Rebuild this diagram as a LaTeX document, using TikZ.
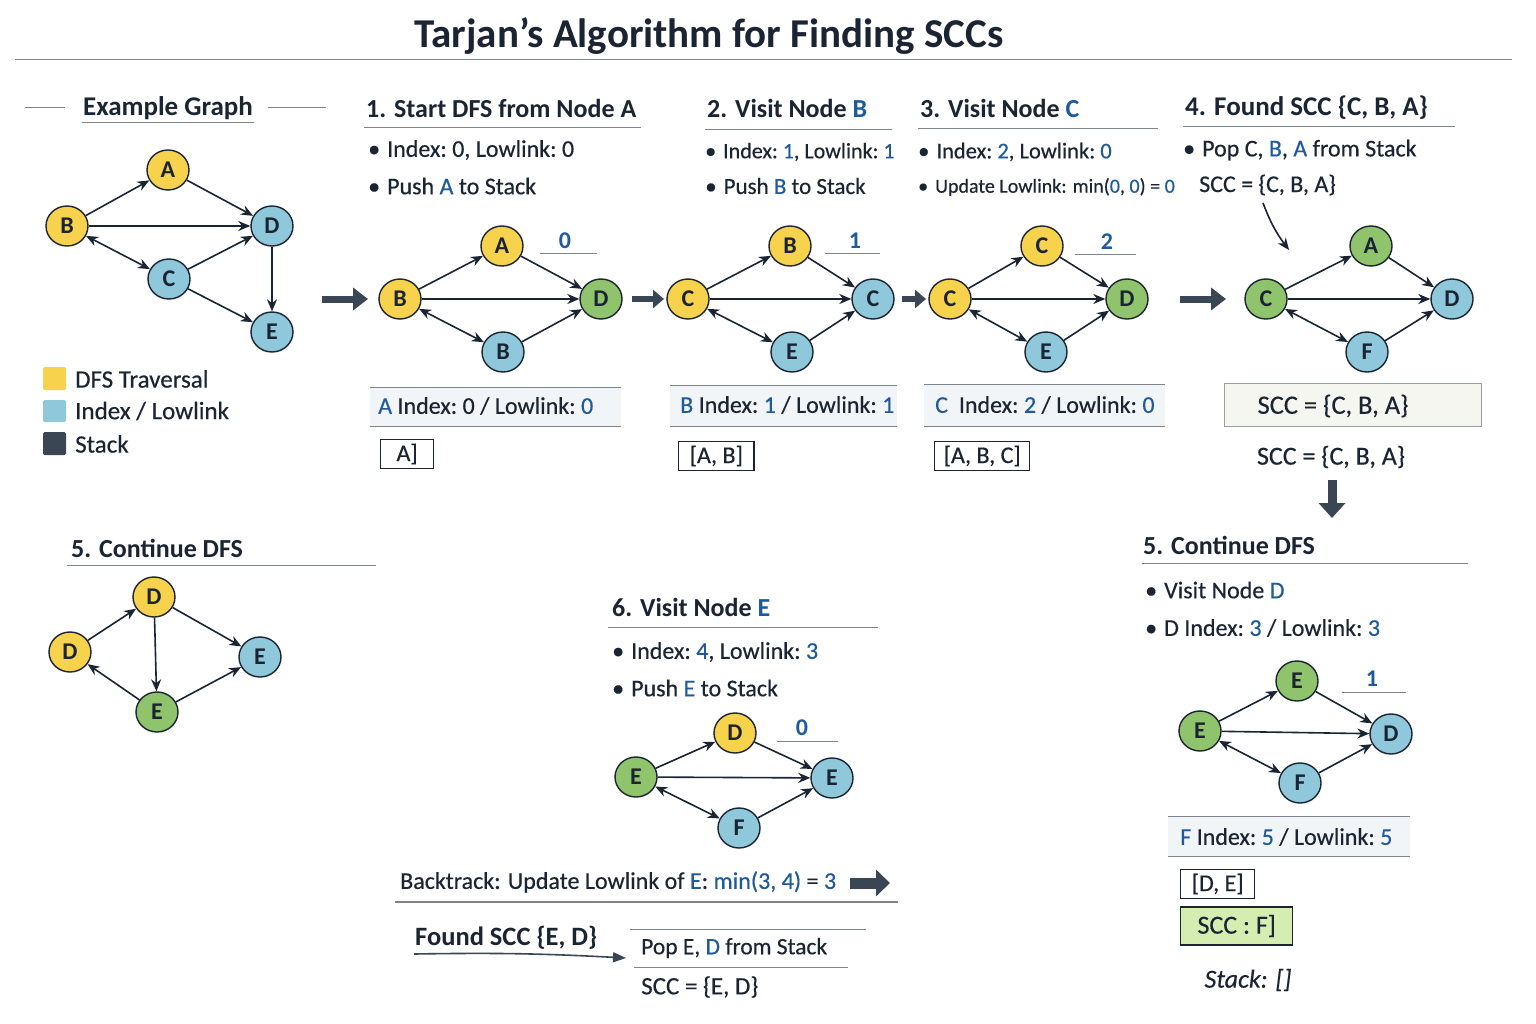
\documentclass[tikz,border=0pt]{standalone}
\usepackage{fontspec}
\setmainfont{Carlito}[UprightFeatures={FakeBold=0.4},ItalicFeatures={FakeBold=0.4}]
\usetikzlibrary{arrows.meta,shapes.geometric}
\definecolor{ink}{HTML}{1B2433}
\definecolor{nyel}{HTML}{F7D24C}
\definecolor{nblu}{HTML}{8FC7DB}
\definecolor{ngrn}{HTML}{8FC46C}
\definecolor{tblue}{HTML}{1F5B9C}
\definecolor{rule}{HTML}{7D848C}
\definecolor{stackc}{HTML}{3A4653}
\definecolor{barbg}{HTML}{F2F5F8}
\definecolor{sccbg}{HTML}{D6EDB2}
\definecolor{sccbox}{HTML}{F6F6F0}
\newcommand{\bl}[1]{\textcolor{tblue}{#1}}
\newcommand{\bu}{\textbullet\hspace{7pt}}
\tikzset{
  gn/.style={ellipse,draw=ink,line width=1.4pt,minimum width=42pt,minimum height=40pt,inner sep=0pt,font=\fontsize{24}{24}\selectfont\bfseries,text=ink},
  yn/.style={gn,fill=nyel},
  bn/.style={gn,fill=nblu},
  gr/.style={gn,fill=ngrn},
  ed/.style={draw=ink,line width=1.6pt,-{Stealth[length=12pt,width=10pt]}},
  bd/.style={draw=ink,line width=1.6pt,{Stealth[length=12pt,width=10pt]}-{Stealth[length=12pt,width=10pt]}},
  head/.style={anchor=west,inner sep=0pt,font=\fontsize{26}{26}\selectfont\bfseries,text=ink},
  txt/.style={anchor=west,inner sep=0pt,font=\fontsize{24}{24}\selectfont,text=ink},
  small/.style={anchor=west,inner sep=0pt,font=\fontsize{20}{20}\selectfont,text=ink},
  numl/.style={inner sep=0pt,font=\fontsize{24}{24}\selectfont\bfseries,text=tblue},
  rl/.style={draw=rule,line width=1pt},
  bigarrow/.style={draw=stackc,line width=7pt,-{Triangle[length=15pt,width=22pt]}},
  smallarrow/.style={draw=stackc,line width=6pt,-{Triangle[length=11pt,width=18pt]}},
  stk/.style={draw=ink,line width=1.3pt,inner xsep=11pt,inner ysep=3pt,minimum height=29pt,font=\fontsize{24}{24}\selectfont,text=ink}
}
\begin{document}
\begin{tikzpicture}[x=1pt,y=-1pt]
\useasboundingbox[fill=white] (0,0) rectangle (1536,1024);
% title
\node[font=\fontsize{41}{41}\selectfont\bfseries,text=ink,inner sep=0pt] (title) at (709,36) {Tarjan’s Algorithm for Finding SCCs};
\draw[rl] (15,60) -- (1512,60);

% ===== Example graph =====
\node[font=\fontsize{27}{27}\selectfont\bfseries,text=ink,inner sep=0pt] (exh) at (168,108) {Example Graph};
\draw[rl] (82,123) -- (254,123);
\draw[rl] (25,108) -- (65,108);
\draw[rl] (268,108) -- (326,108);
\node[yn] (eA) at (168,170) {A};
\node[yn] (eB) at (67,226) {B};
\node[bn] (eD) at (272,226) {D};
\node[bn] (eC) at (169,279) {C};
\node[bn] (eE) at (272,332) {E};
\draw[ed] (eB) -- (eA);
\draw[ed] (eA) -- (eD);
\draw[ed] (eB) -- (eD);
\draw[bd] (eB) -- (eC);
\draw[ed] (eC) -- (eD);
\draw[ed] (eC) -- (eE);
\draw[ed] (eD) -- (eE);
% legend
\fill[nyel,rounded corners=1.5pt] (43,367) rectangle (66,390);
\fill[nblu,rounded corners=1.5pt] (43,400) rectangle (66,422);
\fill[stackc,rounded corners=1.5pt] (43,432) rectangle (66,455);
\node[txt,font=\fontsize{25}{25}\selectfont] (lg1) at (75,379) {DFS Traversal};
\node[txt,font=\fontsize{25}{25}\selectfont] (lg2) at (75,411) {Index / Lowlink};
\node[txt,font=\fontsize{25}{25}\selectfont] (lg3) at (75,444) {Stack};

% arrow to panel 1
\coordinate (a1s) at (322,299);
\coordinate (a1e) at (368,299);
\draw[bigarrow] (a1s) -- (a1e);

% ===== Panel 1 =====
\node[head] (h1) at (366,108) {1. Start DFS from Node A};
\draw[rl] (364,128) -- (641,128);
\node[txt] (p1b1) at (368,150) {\bu Index:\ 0, Lowlink:\ 0};
\node[txt] (p1b2) at (368,186) {\bu Push \bl{A} to Stack};
\node[yn] (p1B) at (400,299) {B};
\node[yn] (p1A) at (502,246) {A};
\node[gr] (p1D) at (601,299) {D};
\node[bn] (p1B2) at (503,352) {B};
\draw[ed] (p1B) -- (p1A);
\draw[ed] (p1A) -- (p1D);
\draw[ed] (p1B) -- (p1D);
\draw[bd] (p1B) -- (p1B2);
\draw[ed] (p1B2) -- (p1D);
\node[numl] (p1n) at (565,241) {0};
\draw[rl] (540,254) -- (597,254);
\fill[barbg] (370,387) rectangle (621,426);
\draw[rl] (370,387) -- (621,387);
\draw[rl] (370,426) -- (621,426);
\node[txt] (p1i) at (378,406) {\bl{A} Index:\ 0 / Lowlink:\ \bl{0}};
\node[stk,anchor=west,minimum width=53pt] (p1s) at (380,454) {A]};

\coordinate (a2s) at (632,299);
\coordinate (a2e) at (664,299);
\draw[smallarrow] (a2s) -- (a2e);

% ===== Panel 2 =====
\node[head] (h2) at (707,108) {2. Visit Node \bl{B}};
\draw[rl] (705,130) -- (892,130);
\node[txt,font=\fontsize{22}{22}\selectfont] (p2b1) at (705,152) {\bu Index:\ \bl{1}, Lowlink:\ \bl{1}};
\node[txt,font=\fontsize{23}{23}\selectfont] (p2b2) at (705,186) {\bu Push \bl{B} to Stack};
\node[yn] (p2C) at (688,299) {C};
\node[yn] (p2B) at (790,246) {B};
\node[bn] (p2C2) at (873,299) {C};
\node[bn] (p2E) at (792,352) {E};
\draw[ed] (p2C) -- (p2B);
\draw[ed] (p2B) -- (p2C2);
\draw[ed] (p2C) -- (p2C2);
\draw[bd] (p2C) -- (p2E);
\draw[ed] (p2E) -- (p2C2);
\node[numl] (p2n) at (855,241) {1};
\draw[rl] (825,254) -- (880,254);
\fill[barbg] (670,385) rectangle (897,426);
\draw[rl] (670,385) -- (897,385);
\draw[rl] (670,426) -- (897,426);
\node[txt] (p2i) at (680,405) {\bl{B} Index:\ \bl{1} / Lowlink:\ \bl{1}};
\node[stk,anchor=west] (p2s) at (678,456) {[A, B]};

\coordinate (a3s) at (902,299);
\coordinate (a3e) at (926,299);
\draw[smallarrow] (a3s) -- (a3e);

% ===== Panel 3 =====
\node[head] (h3) at (920,108) {3. Visit Node \bl{C}};
\draw[rl] (918,129) -- (1158,129);
\node[txt,font=\fontsize{22.5}{22.5}\selectfont] (p3b1) at (918,152) {\bu Index:\ \bl{2}, Lowlink:\ \bl{0}};
\node[small] (p3b2) at (918,187) {\bu Update Lowlink: min(\bl{0}, \bl{0}) = \bl{0}};
\node[yn] (p3C) at (950,299) {C};
\node[yn] (p3C2) at (1042,246) {C};
\node[gr] (p3D) at (1127,299) {D};
\node[bn] (p3E) at (1046,352) {E};
\draw[ed] (p3C) -- (p3C2);
\draw[ed] (p3C2) -- (p3D);
\draw[ed] (p3C) -- (p3D);
\draw[bd] (p3C) -- (p3E);
\draw[ed] (p3E) -- (p3D);
\node[numl] (p3n) at (1107,242) {2};
\draw[rl] (1075,255) -- (1136,255);
\fill[barbg] (924,384) rectangle (1165,426);
\draw[rl] (924,384) -- (1165,384);
\draw[rl] (924,426) -- (1165,426);
\node[txt] (p3i) at (935,405) {\bl{C}\ \ Index:\ \bl{2} / Lowlink:\ \bl{0}};
\node[stk,anchor=west,inner xsep=9pt] (p3s) at (934,456) {[A, B, C]};

\coordinate (a4s) at (1180,299);
\coordinate (a4e) at (1226,299);
\draw[bigarrow] (a4s) -- (a4e);

% ===== Panel 4 =====
\node[head,font=\fontsize{27}{27}\selectfont\bfseries] (h4) at (1185,108) {4. Found SCC \{C, B, A\}};
\draw[rl] (1183,127) -- (1455,127);
\node[txt] (p4b1) at (1183,150) {\bu Pop C, \bl{B}, \bl{A} from Stack};
\node[txt] (p4b2) at (1199,185) {SCC = \{C, B, A\}};
\coordinate (p4ps) at (1263,203);
\coordinate (p4pe) at (1289,250);
\draw[ed] (p4ps) to[bend right=8] (p4pe);
\node[gr] (p4C) at (1266,299) {C};
\node[gr] (p4A) at (1371,246) {A};
\node[bn] (p4D) at (1452,299) {D};
\node[bn] (p4F) at (1367,352) {F};
\draw[ed] (p4C) -- (p4A);
\draw[ed] (p4A) -- (p4D);
\draw[ed] (p4C) -- (p4D);
\draw[bd] (p4C) -- (p4F);
\draw[ed] (p4F) -- (p4D);
\node[draw=rule!80,fill=sccbox,line width=1pt,minimum width=257pt,minimum height=43pt,inner sep=0pt] (p4box) at (1352.5,404.5) {};
\node[font=\fontsize{26.5}{26.5}\selectfont,text=ink,inner sep=0pt] (p4bt) at (1333,406) {SCC = \{C, B, A\}};
\node[font=\fontsize{26}{26}\selectfont,text=ink,inner sep=0pt] (p4t2) at (1331,457) {SCC = \{C, B, A\}};
\coordinate (a5s) at (1332,480);
\coordinate (a5e) at (1332,518);
\draw[bigarrow,line width=9pt,-{Triangle[length=15pt,width=26pt]}] (a5s) -- (a5e);

% ===== Panel 5 right =====
\node[head] (h5r) at (1143,545) {5. Continue DFS};
\draw[rl] (1142,563) -- (1468,563);
\node[txt] (p5b1) at (1145,590) {\bu Visit Node \bl{D}};
\node[txt] (p5b2) at (1145,628) {\bu D Index:\ \bl{3} / Lowlink:\ \bl{3}};
\node[gr] (p5E) at (1200,731) {E};
\node[gr] (p5E2) at (1297,681) {E};
\node[bn] (p5D) at (1391,734) {D};
\node[bn] (p5F) at (1300,783) {F};
\draw[ed] (p5E) -- (p5E2);
\draw[ed] (p5E2) -- (p5D);
\draw[ed] (p5E) -- (p5D);
\draw[bd] (p5E) -- (p5F);
\draw[ed] (p5F) -- (p5D);
\node[numl] (p5n) at (1372,679) {1};
\draw[rl] (1342,692) -- (1406,692);
\fill[barbg] (1168,816) rectangle (1410,856);
\draw[rl] (1168,816) -- (1410,816);
\draw[rl] (1168,856) -- (1410,856);
\node[txt] (p5i) at (1180,837) {\bl{F} Index:\ \bl{5} / Lowlink:\ \bl{5}};
\node[stk,anchor=west] (p5s) at (1180,884) {[D, E]};
\node[stk,anchor=west,fill=sccbg,minimum height=38pt,minimum width=112pt,font=\fontsize{26}{26}\selectfont] (p5scc) at (1180,926) {SCC : F]};
\node[font=\fontsize{26}{26}\selectfont\itshape,text=ink,inner sep=0pt] (p5st) at (1248,980) {Stack: []};

% ===== Panel 5 left =====
\node[head] (h5l) at (71,548) {5. Continue DFS};
\draw[rl] (67,565) -- (376,565);
\node[yn] (qD) at (154,597) {D};
\node[yn] (qD2) at (70,652) {D};
\node[bn] (qE) at (260,657) {E};
\node[gr] (qE2) at (157,712) {E};
\draw[ed] (qD2) -- (qD);
\draw[ed] (qD) -- (qE);
\draw[ed] (qD) -- (qE2);
\draw[ed] (qE2) -- (qD2);
\draw[ed] (qE2) -- (qE);

% ===== Panel 6 =====
\node[head] (h6) at (612,607) {6. Visit Node \bl{E}};
\draw[rl] (608,627) -- (878,627);
\node[txt] (p6b1) at (612,652) {\bu Index:\ \bl{4}, Lowlink:\ \bl{3}};
\node[txt] (p6b2) at (612,688) {\bu Push \bl{E} to Stack};
\node[gr] (p6E) at (636,777) {E};
\node[yn] (p6D) at (735,733) {D};
\node[bn] (p6E2) at (832,778) {E};
\node[bn] (p6F) at (739,828) {F};
\draw[ed] (p6E) -- (p6D);
\draw[ed] (p6D) -- (p6E2);
\draw[ed] (p6E) -- (p6E2);
\draw[bd] (p6E) -- (p6F);
\draw[ed] (p6F) -- (p6E2);
\node[numl] (p6n) at (802,728) {0};
\draw[rl] (777,741) -- (838,741);
\node[txt] (p6bt) at (400,882) {Backtrack: Update Lowlink of \bl{E}: \bl{min(3, 4)} = \bl{3}};
\coordinate (a6s) at (850,883);
\coordinate (a6e) at (890,883);
\draw[smallarrow,line width=11pt,-{Triangle[length=14pt,width=26pt]}] (a6s) -- (a6e);
\draw[rl,line width=1.3pt] (395,902) -- (898,902);
\node[anchor=west,inner sep=0pt,font=\fontsize{26.5}{26.5}\selectfont\bfseries,text=ink] (p6f) at (415,938) {Found SCC \{E, D\}};
\coordinate (p6as) at (414,954);
\coordinate (p6ae) at (626,958);
\draw[draw=stackc,line width=1.6pt,-{Triangle[length=13pt,width=10pt]}] (p6as) to[bend left=2] (p6ae);
\draw[rl] (630,929) -- (866,929);
\node[small,font=\fontsize{23.5}{23.5}\selectfont] (p6p) at (641,948) {Pop E, \bl{D} from Stack};
\draw[rl] (634,967) -- (848,967);
\node[small,font=\fontsize{25}{25}\selectfont] (p6s) at (641,987) {SCC = \{E, D\}};
\end{tikzpicture}
\end{document}
